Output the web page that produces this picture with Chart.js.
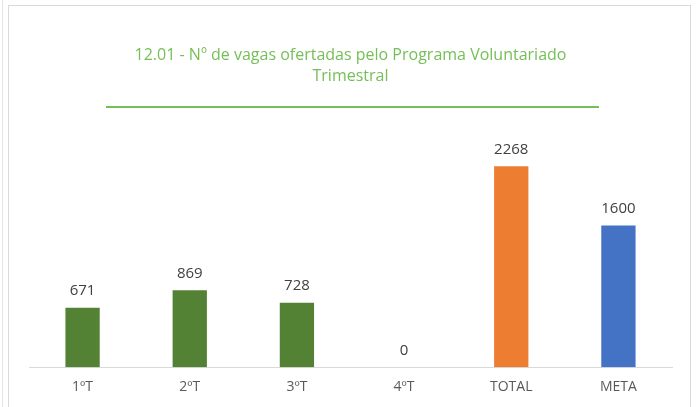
<!DOCTYPE html>
<html>
<head>
<meta charset="utf-8">
<script src="https://cdn.jsdelivr.net/npm/chart.js@4/dist/chart.umd.min.js"></script>
<style>
  html, body { margin: 0; padding: 0; background: #ffffff; }
  body { width: 696px; height: 407px; position: relative; overflow: hidden; }
  #edge { position: absolute; left: 2px; top: 0; width: 1px; height: 407px; background: #e4e4e4; }
  #frame { position: absolute; left: 8px; top: 5px; width: 683px; height: 402px;
           border-left: 1px solid #d9d9d9; border-top: 1px solid #d9d9d9; border-right: 1px solid #d9d9d9; box-sizing: border-box; }
  #frame canvas { display: block; }
</style>
</head>
<body>
<div id="edge"></div>
<div id="frame"><canvas id="c" width="681" height="401"></canvas></div>
<script>
const categories = ["1ºT", "2ºT", "3ºT", "4ºT", "TOTAL", "META"];
const values = [671, 869, 728, 0, 2268, 1600];
const barColors = ["#548235", "#548235", "#548235", "#548235", "#ED7D31", "#4472C4"];
const titleLines = ["12.01 - Nº de vagas ofertadas pelo Programa Voluntariado", "Trimestral"];
const yMax = 2500;

const FONT = "'Open Sans', 'Liberation Sans', sans-serif";

const labelPlugin = {
  id: "valueLabels",
  afterDatasetsDraw(chart) {
    const ctx = chart.ctx;
    const meta = chart.getDatasetMeta(0);
    ctx.save();
    ctx.font = "15px " + FONT;
    ctx.fillStyle = "#404040";
    ctx.textAlign = "center";
    ctx.textBaseline = "bottom";
    meta.data.forEach((bar, i) => {
      ctx.fillText(String(values[i]), bar.x, bar.y - 9);
    });
    ctx.restore();
  }
};

const underlinePlugin = {
  id: "titleUnderline",
  afterDraw(chart) {
    const ctx = chart.ctx;
    const y = 101;
    ctx.save();
    ctx.strokeStyle = "#74BF56";
    ctx.lineWidth = 2;
    ctx.beginPath();
    ctx.moveTo(97, y);
    ctx.lineTo(590, y);
    ctx.stroke();
    ctx.restore();
  }
};

new Chart(document.getElementById("c"), {
  type: "bar",
  data: {
    labels: categories,
    datasets: [{
      data: values,
      backgroundColor: barColors,
      borderWidth: 0,
      barPercentage: 0.32,
      categoryPercentage: 1.0
    }]
  },
  options: {
    responsive: false,
    animation: false,
    events: [],
    layout: { padding: { left: 20, right: 18, top: 0, bottom: 1 } },
    plugins: {
      legend: { display: false },
      tooltip: { enabled: false },
      title: {
        display: true,
        text: titleLines,
        color: "#74BF56",
        font: { family: FONT, size: 16, weight: "normal", lineHeight: 1.3 },
        padding: { top: 39, bottom: 59 }
      }
    },
    scales: {
      x: {
        grid: { display: false, drawTicks: false },
        border: { display: true, color: "#d9d9d9", width: 1 },
        ticks: { color: "#595959", font: { family: FONT, size: 14 }, padding: 11 }
      },
      y: {
        display: false,
        min: 0,
        max: yMax
      }
    }
  },
  plugins: [labelPlugin, underlinePlugin]
});
</script>
</body>
</html>
